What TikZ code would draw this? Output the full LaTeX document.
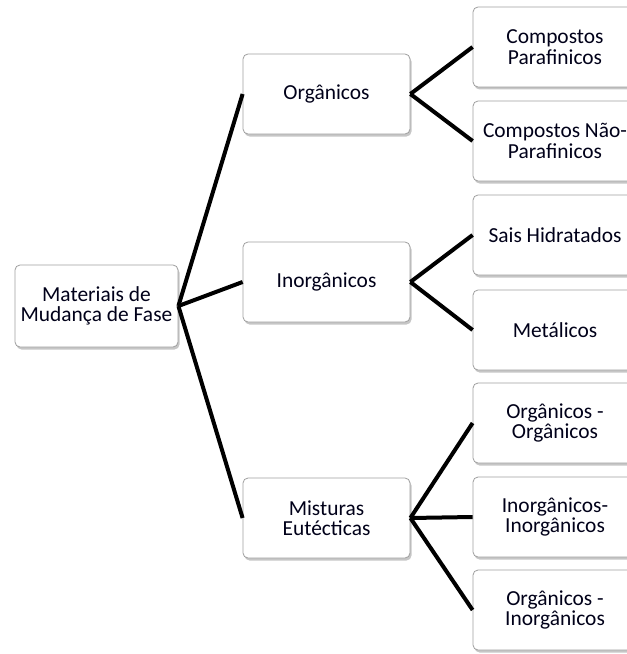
\documentclass[tikz,border=0pt]{standalone}
\usepackage{fontspec}
\setmainfont{Carlito}
\usetikzlibrary{shadows}

\begin{document}
\begin{tikzpicture}[x=1bp, y=-1bp,
    caixa/.style={rectangle, rounded corners=5bp, draw=gray!75, fill=white, line width=0.8bp,
        drop shadow={shadow xshift=1.5bp, shadow yshift=-2.5bp, opacity=0.45, fill=gray},
        align=center, inner sep=0pt, minimum height=80bp,
        text=black!90!blue, font=\fontsize{21.5}{20.5}\selectfont},
    ligacao/.style={line width=4bp, black}]
        \useasboundingbox (0,0) rectangle (627,654);
        \clip (0,0) rectangle (627,654);

        % --- RAIZ ---
        \node (mmf) at (96.5,306) [caixa, minimum width=163bp, minimum height=82bp] {Materiais de\\Mudança de Fase};

        % --- NIVEL 1 ---
        \node (org) at (326.5,94) [caixa, minimum width=167bp] {Orgânicos};
        \node (inorg) at (326.5,282) [caixa, minimum width=167bp] {Inorgânicos};
        \node (mist) at (326.5,518) [caixa, minimum width=167bp] {Misturas\\Eutécticas};

        % --- NIVEL 2 ---
        \node (cp) at (555,47) [caixa, minimum width=164bp] {Compostos\\Parafinicos};
        \node (cnp) at (555,141) [caixa, minimum width=164bp] {Compostos Não-\\Parafinicos};
        \node (sh) at (555,235) [caixa, minimum width=164bp] {Sais Hidratados};
        \node (met) at (555,330) [caixa, minimum width=164bp] {Metálicos};
        \node (oo) at (555,423) [caixa, minimum width=164bp] {Orgânicos -\\Orgânicos};
        \node (ii) at (555,517) [caixa, minimum width=164bp] {Inorgânicos-\\Inorgânicos};
        \node (oi) at (555,610) [caixa, minimum width=164bp] {Orgânicos -\\Inorgânicos};

        \draw[ligacao] (mmf.east) -- (org.west);
        \draw[ligacao] (mmf.east) -- (inorg.west);
        \draw[ligacao] (mmf.east) -- (mist.west);

        \draw[ligacao] (org.east) -- (cp.west);
        \draw[ligacao] (org.east) -- (cnp.west);
        \draw[ligacao] (inorg.east) -- (sh.west);
        \draw[ligacao] (inorg.east) -- (met.west);
        \draw[ligacao] (mist.east) -- (oo.west);
        \draw[ligacao] (mist.east) -- (ii.west);
        \draw[ligacao] (mist.east) -- (oi.west);
    \end{tikzpicture}
\end{document}
